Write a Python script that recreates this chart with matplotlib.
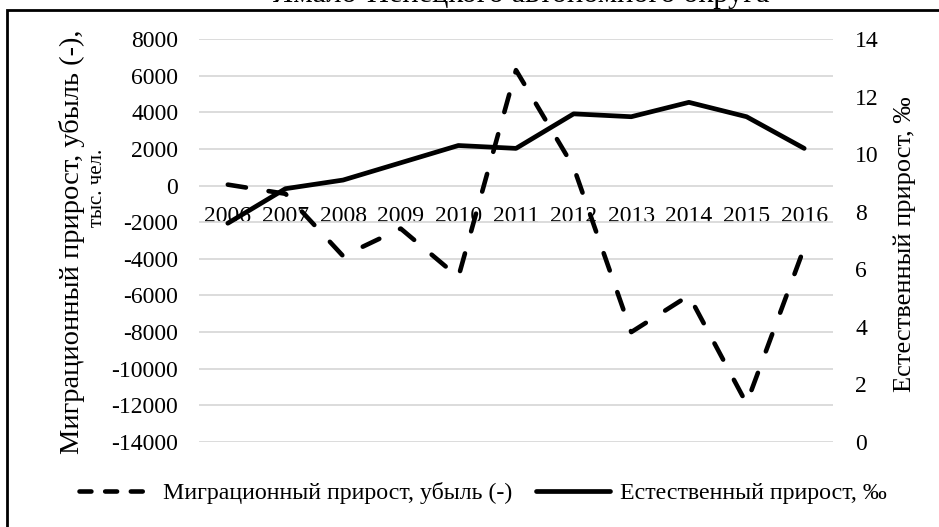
import matplotlib.pyplot as plt
from matplotlib.patches import Rectangle
from matplotlib.lines import Line2D

# data
years = ["2006", "2007", "2008", "2009", "2010", "2011",
         "2012", "2013", "2014", "2015", "2016"]
migration = [50, -450, -3850, -2350, -5000, 6300,
             1000, -8000, -6000, -11900, -3400]
natural = [7.6, 8.8, 9.1, 9.7, 10.3, 10.2, 11.4, 11.3, 11.8, 11.3, 10.2]

left_ticks = list(range(-14000, 8001, 2000))
right_ticks = list(range(0, 15, 2))

title = "Ямало-Ненецкого автономного округа"
left_label = "Миграционный прирост, убыль (-),"
left_label2 = "тыс. чел."
right_label = "Естественный прирост, ‰"
mig_name = "Миграционный прирост, убыль (-)"
nat_name = "Естественный прирост, ‰"

plt.rcParams["font.family"] = ["Liberation Serif", "DejaVu Serif"]
plt.rcParams["axes.unicode_minus"] = False

W, H = 939, 527
fig = plt.figure(figsize=(W / 100, H / 100), dpi=100)
ax = fig.add_axes([199 / W, 1 - 442 / H, (833 - 199) / W, (442 - 39) / H])
ax2 = ax.twinx()

x = list(range(len(years)))
dash = (0, (4.0, 5.0))
ax.plot(x, migration, color="black", lw=3.3, linestyle=dash,
        dash_capstyle="round", solid_joinstyle="round", zorder=3)
ax2.plot(x, natural, color="black", lw=3.4, solid_capstyle="round",
         solid_joinstyle="round", zorder=3)

ax.set_xlim(-0.5, len(years) - 0.5)
ax.set_ylim(-14000, 8000)
ax.set_yticks(left_ticks)
ax2.set_ylim(0, 14)
ax2.set_yticks(right_ticks)

ax.set_xticks(x)
ax.set_xticklabels(years)
ax.spines["bottom"].set_position(("data", 0))
for a in (ax, ax2):
    for s in a.spines.values():
        s.set_visible(False)

ax.grid(axis="y", color="#d9d9d9", lw=1.3)
ax.set_axisbelow(True)
ax.tick_params(axis="x", length=0, pad=15, labelsize=17)
ax.tick_params(axis="y", length=0, pad=15, labelsize=17)
ax2.tick_params(axis="y", length=0, pad=16, labelsize=17)

fig.text(72 / W, 1 - 242 / H, left_label, rotation=90, fontsize=20.5,
         ha="center", va="center")
fig.text(97 / W, 1 - 188 / H, left_label2, rotation=90, fontsize=15,
         ha="center", va="center")
fig.text(905 / W, 1 - 244 / H, right_label, rotation=90, fontsize=19,
         ha="center", va="center")

fig.text(521 / W, 1 - 2 / H, title, fontsize=22, ha="center", va="baseline")

handles = [
    Line2D([], [], color="black", lw=3.3, linestyle=(0, (2.6, 3.0)),
           dash_capstyle="round"),
    Line2D([], [], color="black", lw=3.4, solid_capstyle="round"),
]
fig.legend(handles, [mig_name, nat_name], loc="center",
           bbox_to_anchor=(483 / W, 1 - 493 / H), ncol=2, frameon=False,
           fontsize=17.2, handlelength=3.1, handletextpad=0.4,
           columnspacing=1.0)

fig.patches.append(Rectangle((7 / W, -0.1), 1.2, 1 - 10 / H + 0.1,
                             transform=fig.transFigure, fill=False,
                             edgecolor="black", lw=2))

fig.savefig("out.png", dpi=100)
